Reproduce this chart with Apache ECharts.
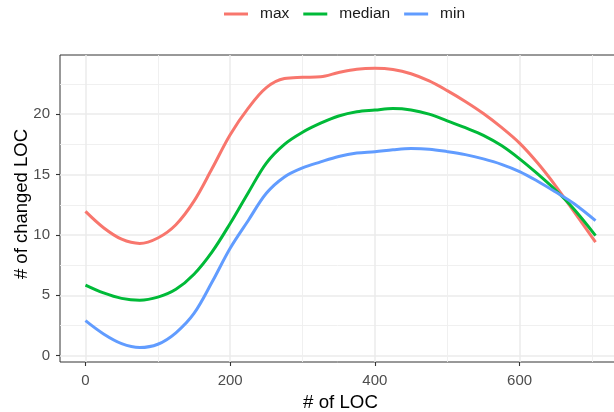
<!DOCTYPE html>
<html>
<head>
<meta charset="utf-8">
<script src="https://cdn.jsdelivr.net/npm/echarts@6/dist/echarts.min.js"></script>
<style>html,body{margin:0;padding:0;background:#fff}#c{width:614px;height:412px}</style>
</head>
<body>
<div id="c"></div>
<script>
const xs       = [0, 25, 50, 75, 100, 125, 150, 175, 200, 225, 250, 275, 300, 325, 350, 375, 400, 425, 450, 475, 500, 525, 550, 575, 600, 625, 650, 675, 705];
const maxVals  = [11.95, 10.6, 9.65, 9.3, 9.75, 10.85, 12.8, 15.5, 18.3, 20.5, 22.2, 22.95, 23.05, 23.1, 23.45, 23.72, 23.8, 23.7, 23.35, 22.75, 21.95, 21.05, 20.05, 18.9, 17.6, 15.95, 14.05, 11.95, 9.4];
const medVals  = [5.85, 5.2, 4.75, 4.6, 4.85, 5.5, 6.75, 8.6, 10.95, 13.5, 15.95, 17.5, 18.5, 19.25, 19.85, 20.2, 20.34, 20.47, 20.35, 20.0, 19.45, 18.88, 18.25, 17.4, 16.3, 15.05, 13.7, 12.15, 9.95];
const minVals  = [2.9, 1.8, 1.0, 0.68, 0.95, 1.9, 3.5, 6.1, 8.9, 11.2, 13.45, 14.8, 15.55, 16.05, 16.5, 16.78, 16.89, 17.05, 17.15, 17.1, 16.9, 16.65, 16.3, 15.85, 15.25, 14.45, 13.55, 12.6, 11.18];
const seriesNames = ['max', 'median', 'min'];
const xTicks = [0, 200, 400, 600];
const xMinor = [100, 300, 500, 700];
const yTicks = [0, 5, 10, 15, 20];
const yMinor = [2.5, 7.5, 12.5, 17.5, 22.5];

const colors = ['#F8766D', '#00BA38', '#619CFF'];
const font = 'Liberation Sans, Arial, sans-serif';
const pairs = v => xs.map((x, i) => [x, v[i]]);

const chart = echarts.init(document.getElementById('c'), null, {renderer: 'canvas'});
const gridLine = {show: true, lineStyle: {color: '#EBEBEB', width: 1.5}};
const minorLine = {show: true, lineStyle: {color: '#EEEEEE', width: 0.9}};

chart.setOption({
  animation: false,
  backgroundColor: '#fff',
  color: colors,
  legend: {
    data: seriesNames,
    left: 224, top: 6, padding: 0,
    icon: 'rect', itemWidth: 24, itemHeight: 3, itemGap: 14,
    textStyle: {fontFamily: font, fontSize: 15.5, color: '#1a1a1a', padding: [0, 0, 0, 7]}
  },
  grid: [{left: 60, right: -7, top: 55, bottom: 50, outerBoundsMode: 'none', containLabel: false,
          show: true, borderColor: '#333', borderWidth: 1, backgroundColor: 'transparent'}],
  xAxis: [
    {type: 'value', min: -35.2, max: 740.2, gridIndex: 0, position: 'bottom',
     axisLine: {show: false, onZero: false},
     axisTick: {show: true, length: 4, lineStyle: {color: '#333', width: 1.1}, customValues: xTicks},
     axisLabel: {customValues: xTicks, fontFamily: font, fontSize: 15, color: '#4D4D4D', margin: 11},
     splitLine: gridLine,
     name: '# of LOC', nameLocation: 'middle', nameGap: 31, nameMoveOverlap: false,
     nameTextStyle: {fontFamily: font, fontSize: 18.7, color: '#000'}
    },
    {type: 'value', min: -35.2, max: 740.2, gridIndex: 0, position: 'bottom',
     axisLine: {show: false, onZero: false}, axisLabel: {show: false},
     axisTick: {show: false, customValues: xMinor},
     splitLine: minorLine
    }
  ],
  yAxis: [
    {type: 'value', min: -0.52, max: 24.9, gridIndex: 0, position: 'left',
     axisLine: {show: false, onZero: false},
     axisTick: {show: true, length: 4, lineStyle: {color: '#333', width: 1.1}, customValues: yTicks},
     axisLabel: {customValues: yTicks, fontFamily: font, fontSize: 15, color: '#4D4D4D', margin: 10},
     splitLine: gridLine,
     name: '# of changed LOC', nameLocation: 'middle', nameGap: 29, nameRotate: 90, nameMoveOverlap: false,
     nameTextStyle: {fontFamily: font, fontSize: 18.5, color: '#000', padding: [0, 0, 0, 9]}
    },
    {type: 'value', min: -0.52, max: 24.9, gridIndex: 0, position: 'left',
     axisLine: {show: false, onZero: false}, axisLabel: {show: false},
     axisTick: {show: false, customValues: yMinor},
     splitLine: minorLine
    }
  ],
  series: [
    {name: seriesNames[0], type: 'line', data: pairs(maxVals), smooth: 0.35, showSymbol: false, symbol: 'none', lineStyle: {width: 3}, z: 3},
    {name: seriesNames[1], type: 'line', data: pairs(medVals), smooth: 0.35, showSymbol: false, symbol: 'none', lineStyle: {width: 3}, z: 3},
    {name: seriesNames[2], type: 'line', data: pairs(minVals), smooth: 0.35, showSymbol: false, symbol: 'none', lineStyle: {width: 3}, z: 3}
  ]
});
</script>
</body>
</html>
